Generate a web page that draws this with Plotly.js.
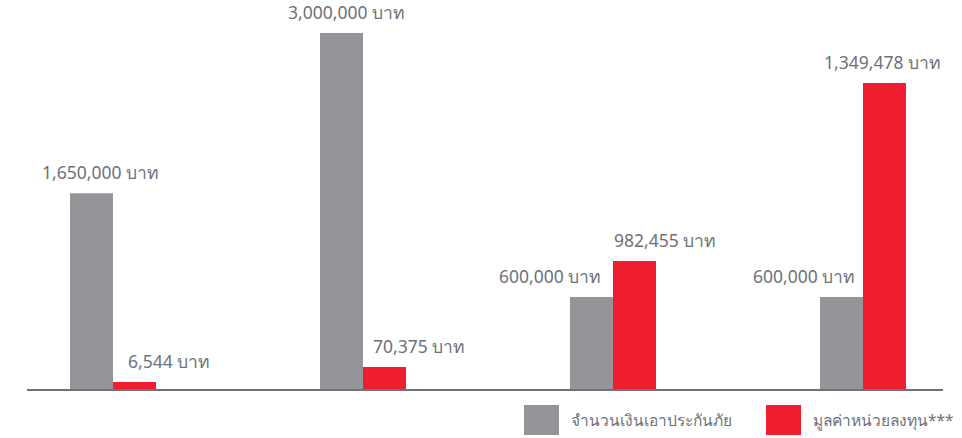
<!DOCTYPE html>
<html>
<head>
<meta charset="utf-8">
<script src="https://cdn.plot.ly/plotly-3.0.1.min.js"></script>
<style>html,body{margin:0;padding:0;background:#fff;}#chart{width:962px;height:438px;}</style>
</head>
<body>
<div id="chart"></div>
<script>
// ---- data ----
var groups = ['แบบ 1', 'แบบ 2', 'แบบ 3', 'แบบ 4'];
var seriesNames = ['จำนวนเงินเอาประกันภัย', 'มูลค่าหน่วยลงทุน***'];
// values printed on the chart (baht)
var insuredAmount = [1650000, 3000000, 600000, 600000];
var unitValue = [6544, 70375, 982455, 1349478];
// bar heights as drawn in the picture (the original is not to scale)
var insuredHeight = [1650000, 3000000, 775000, 775000];
var unitHeight = [59000, 185000, 1079000, 2579000];
var unitWord = 'บาท';

// ---- styles ----
var GRAY = '#939598', RED = '#ee1d30', TXT = '#6d7278';
var FONT = 'Noto Sans, DejaVu Sans, sans-serif';
var W = 962, H = 438, L = 27, R = 19, T = 0, B = 49;
var plotW = W - L - R, plotH = H - T - B;
var yMax = 3278000;

function fmt(v) { return v.toLocaleString('en-US') + ' ' + unitWord; }
function px2paperX(px) { return (px - L) / plotW; }
function px2paperY(py) { return (H - B - py) / plotH; }

var idx = groups.map(function (g, i) { return i; });

var traces = [
  { type: 'bar', x: groups, y: insuredHeight, name: seriesNames[0], marker: { color: GRAY }, hoverinfo: 'skip', showlegend: false },
  { type: 'bar', x: groups, y: unitHeight, name: seriesNames[1], marker: { color: RED }, hoverinfo: 'skip', showlegend: false }
];

// label horizontal shifts (px) relative to bar centre
var grayShift = [8.5, 5, -42, -38];
var redShift = [34, 34.5, 30, -2];
var annotations = [];
idx.forEach(function (i) {
  annotations.push({ x: groups[i], y: insuredHeight[i], xref: 'x', yref: 'y', text: fmt(insuredAmount[i]),
    showarrow: false, yanchor: 'bottom', xanchor: 'center', xshift: -21.5 + grayShift[i], yshift: 7,
    font: { family: FONT, size: 17.5, color: TXT } });
  annotations.push({ x: groups[i], y: unitHeight[i], xref: 'x', yref: 'y', text: fmt(unitValue[i]),
    showarrow: false, yanchor: 'bottom', xanchor: 'center', xshift: 21.5 + redShift[i], yshift: 7,
    font: { family: FONT, size: 17.5, color: TXT } });
});

// custom legend
var shapes = [];
var legendItems = [
  { color: GRAY, x0: 524, x1: 559, tx: 569, name: seriesNames[0] },
  { color: RED, x0: 766, x1: 801, tx: 811, name: seriesNames[1] }
];
legendItems.forEach(function (it) {
  shapes.push({ type: 'rect', xref: 'paper', yref: 'paper', x0: px2paperX(it.x0), x1: px2paperX(it.x1),
    y0: px2paperY(435), y1: px2paperY(405), fillcolor: it.color, line: { width: 0 } });
  annotations.push({ xref: 'paper', yref: 'paper', x: px2paperX(it.tx), y: px2paperY(420), text: it.name,
    showarrow: false, xanchor: 'left', yanchor: 'middle', font: { family: FONT, size: 15.5, color: TXT } });
});

var layout = {
  width: W, height: H,
  margin: { l: L, r: R, t: T, b: B, pad: 0 },
  paper_bgcolor: '#ffffff', plot_bgcolor: '#ffffff',
  barmode: 'group', bargap: 0.656, bargroupgap: 0,
  showlegend: false,
  xaxis: { type: 'category', range: [-0.344, 3.32], showticklabels: false, ticks: '', showgrid: false,
    zeroline: false, showline: true, linecolor: '#6e737a', linewidth: 2, fixedrange: true },
  yaxis: { range: [0, yMax], visible: false, showgrid: false, zeroline: false, fixedrange: true },
  annotations: annotations,
  shapes: shapes,
  font: { family: FONT, color: TXT }
};

Plotly.newPlot('chart', traces, layout, { displayModeBar: false, staticPlot: true });
</script>
</body>
</html>
